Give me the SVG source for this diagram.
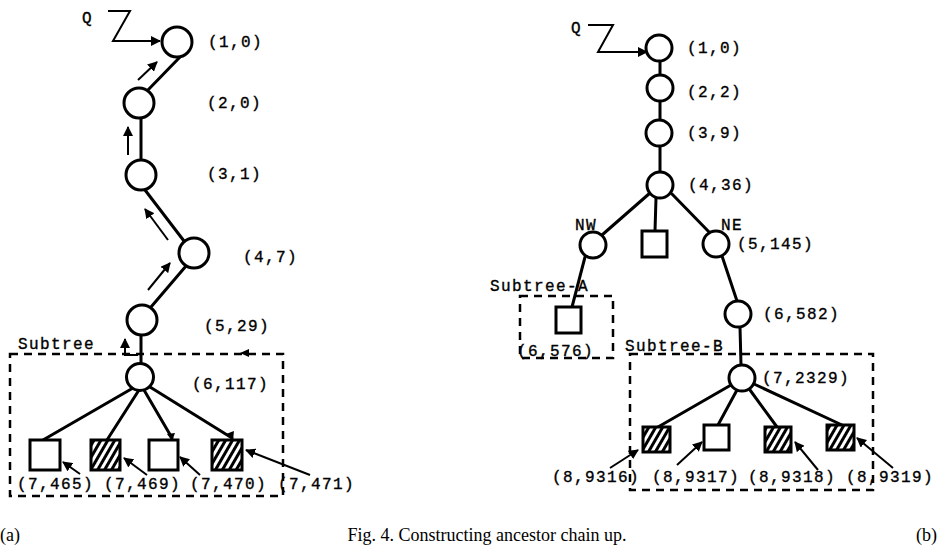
<svg xmlns="http://www.w3.org/2000/svg" width="938" height="548" viewBox="0 0 938 548">
<style>
.n{fill:#fff;stroke:#000;stroke-width:3}
.sq{fill:#fff;stroke:#000;stroke-width:3}
.h{fill:url(#hatch);stroke:#000;stroke-width:3}
.e{fill:none;stroke:#000;stroke-width:3;stroke-linecap:round}
.a{fill:none;stroke:#000;stroke-width:2;marker-end:url(#ah)}
.d{fill:none;stroke:#000;stroke-width:2.5;stroke-dasharray:8,6}
.t{font-family:"Liberation Mono","DejaVu Sans Mono",monospace;font-size:16px;letter-spacing:1.4px;fill:#000;stroke:#000;stroke-width:0.35}
.c{font-family:"Liberation Serif","Times New Roman",serif;font-size:18px;fill:#000}
</style>
<defs>
<marker id="ah" viewBox="0 0 10 10" refX="9" refY="5" markerWidth="5" markerHeight="5" orient="auto" markerUnits="strokeWidth">
<path d="M0,0 L10,5 L0,10 z" fill="#000"/>
</marker>
<pattern id="hatch" patternUnits="userSpaceOnUse" width="6" height="6" patternTransform="rotate(30)">
<rect x="0" y="0" width="6" height="6" fill="#fff"/>
<rect x="0" y="0" width="3" height="6" fill="#000"/>
</pattern>
</defs>

<g id="connectors">
<path class="e" d="M180,57 L147,91"/>
<path class="e" d="M141,118 L141,160"/>
<path class="e" d="M145,190 L184,241"/>
<path class="e" d="M186,266 L151,307"/>
<path class="e" d="M141,335 L141,364"/>
<path class="e" d="M133,388 L43,440"/>
<path class="e" d="M139,390 L107,440"/>
<path class="e" d="M144,390 L172,438"/>
<path class="e" d="M150,387 L232,438"/>
<path d="M172,441 l-5,-7 l8,-1 z"/>
<path d="M233,440 l-7,-6 l8,-3 z"/>
<path class="a" d="M108,11 H130 L113,41 H160"/>
<path class="a" d="M138,80 L157,62"/>
<path class="a" d="M128,155 L128,127"/>
<path class="a" d="M168,240 L145,209"/>
<path class="a" d="M148,290 L170,263"/>
<path class="a" d="M138,355 H125 V339"/>
<path class="a" d="M80,474 L63,462"/>
<path class="a" d="M147,475 L124,458"/>
<path class="a" d="M200,475 L180,457"/>
<path class="a" d="M310,475 L246,450"/>
<path d="M240,353 l9,-4 l0,8 z"/>

<path class="e" d="M660,61 L660,75"/>
<path class="e" d="M660,101 L660,120"/>
<path class="e" d="M660,146 L660,172"/>
<path class="e" d="M650,193 L602,235"/>
<path class="e" d="M656,198 L655,231"/>
<path class="e" d="M672,194 L710,233"/>
<path class="e" d="M585,257 L572,307"/>
<path class="e" d="M722,256 L737,301"/>
<path class="e" d="M740,327 L741,365"/>
<path class="e" d="M731,385 L658,427"/>
<path class="e" d="M737,390 L718,425"/>
<path class="e" d="M750,390 L777,427"/>
<path class="e" d="M754,384 L842,425"/>
<path class="a" d="M588,25 H613 L598,52 H647"/>
<path class="a" d="M610,468 L638,450"/>
<path class="a" d="M677,465 L702,442"/>
<path class="a" d="M818,470 L795,442"/>
<path class="a" d="M893,468 L857,438"/>

<rect class="d" x="10" y="354" width="273" height="142"/>
<rect class="d" x="520" y="296" width="93" height="62"/>
<rect class="d" x="630" y="354" width="243" height="136"/>
</g>

<g id="L1"><circle class="n" cx="177" cy="42" r="15"/><text class="t" x="208" y="47">(1,0)</text></g>
<g id="L2"><circle class="n" cx="139" cy="103" r="15"/><text class="t" x="207" y="108">(2,0)</text></g>
<g id="L3"><circle class="n" cx="141" cy="175" r="15"/><text class="t" x="207" y="179">(3,1)</text></g>
<g id="L4"><circle class="n" cx="194" cy="253" r="15"/><text class="t" x="243" y="262">(4,7)</text></g>
<g id="L5"><circle class="n" cx="142" cy="320" r="15"/><text class="t" x="204" y="331">(5,29)</text></g>
<g id="L6"><circle class="n" cx="140" cy="377" r="13.5"/><text class="t" x="192" y="389">(6,117)</text></g>
<g id="L7a"><rect class="sq" x="30" y="440" width="30" height="30"/><text class="t" x="17" y="489">(7,465)</text></g>
<g id="L7b"><rect class="h" x="91" y="440" width="29" height="30"/><text class="t" x="104" y="489">(7,469)</text></g>
<g id="L7c"><rect class="sq" x="149" y="440" width="29" height="30"/><text class="t" x="190" y="489">(7,470)</text></g>
<g id="L7d"><rect class="h" x="212" y="440" width="30" height="30"/><text class="t" x="278" y="489">(7,471)</text></g>
<g id="LQ"><text class="t" x="82" y="23">Q</text></g>
<g id="LSub"><text class="t" x="18" y="349">Subtree</text></g>

<g id="RQ"><text class="t" x="571" y="33">Q</text></g>
<g id="R1"><circle class="n" cx="659" cy="48" r="13"/><text class="t" x="687" y="53">(1,0)</text></g>
<g id="R2"><circle class="n" cx="660" cy="88" r="13"/><text class="t" x="687" y="97">(2,2)</text></g>
<g id="R3"><circle class="n" cx="659" cy="133" r="13"/><text class="t" x="687" y="138">(3,9)</text></g>
<g id="R4"><circle class="n" cx="660" cy="185" r="13"/><text class="t" x="688" y="190">(4,36)</text></g>
<g id="RNW"><circle class="n" cx="593" cy="245" r="13"/><text class="t" x="575" y="230">NW</text></g>
<g id="RMid"><rect class="sq" x="642" y="231" width="25" height="26"/></g>
<g id="RNE"><circle class="n" cx="716" cy="244" r="13"/><text class="t" x="721" y="230">NE</text><text class="t" x="737" y="249">(5,145)</text></g>
<g id="RA"><rect class="sq" x="556" y="307" width="25" height="26"/><text class="t" x="517" y="356">(6,576)</text></g>
<g id="RSubA"><text class="t" x="490" y="291">Subtree-A</text></g>
<g id="R6"><circle class="n" cx="738" cy="314" r="13"/><text class="t" x="763" y="319">(6,582)</text></g>
<g id="RSubB"><text class="t" x="625" y="351">Subtree-B</text></g>
<g id="R7"><circle class="n" cx="742" cy="378" r="13"/><text class="t" x="762" y="383">(7,2329)</text></g>
<g id="R8a"><rect class="h" x="643" y="427" width="27" height="25"/><text class="t" x="552" y="482">(8,9316)</text></g>
<g id="R8b"><rect class="sq" x="704" y="425" width="25" height="25"/><text class="t" x="652" y="482">(8,9317)</text></g>
<g id="R8c"><rect class="h" x="765" y="427" width="26" height="25"/><text class="t" x="748" y="482">(8,9318)</text></g>
<g id="R8d"><rect class="h" x="827" y="425" width="27" height="25"/><text class="t" x="846" y="482">(8,9319)</text></g>

<g id="caption">
<text class="c" x="0" y="541">(a)</text>
<text class="c" x="487" y="541" text-anchor="middle">Fig. 4. Constructing ancestor chain up.</text>
<text class="c" x="937" y="541" text-anchor="end">(b)</text>
</g>
</svg>
